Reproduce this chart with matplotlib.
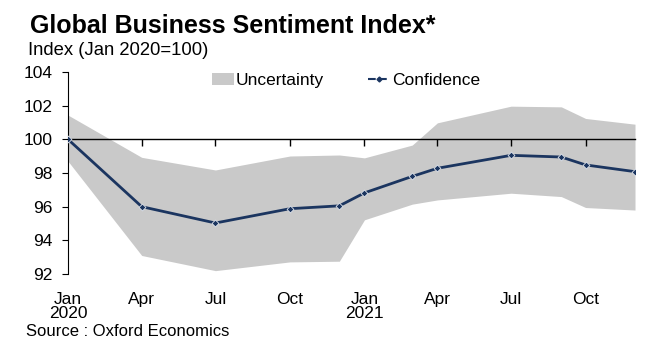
import numpy as np
import pandas as pd
import matplotlib.pyplot as plt
import matplotlib.dates as mdates
from matplotlib.patches import Patch
from matplotlib.lines import Line2D

# =============================================================================== #
# DADOS

meses = ["2020-01", "2020-04", "2020-07", "2020-10", "2020-12", "2021-01",
         "2021-03", "2021-04", "2021-07", "2021-09", "2021-10", "2021-12"]
confianca = [100.0, 96.0, 95.03, 95.88, 96.05, 96.82, 97.8, 98.28, 99.05, 98.95, 98.48, 98.08]
incerteza_sup = [101.44, 98.93, 98.18, 99.01, 99.07, 98.9, 99.66, 100.98, 101.97, 101.93, 101.24, 100.9]
incerteza_inf = [98.7, 93.1, 92.2, 92.72, 92.76, 95.22, 96.15, 96.4, 96.8, 96.6, 95.95, 95.8]

ticks_x = ["2020-01", "2020-04", "2020-07", "2020-10", "2021-01", "2021-04", "2021-07", "2021-10"]
rotulos_x = ["Jan\n2020", "Apr", "Jul", "Oct", "Jan\n2021", "Apr", "Jul", "Oct"]
ticks_y = [92, 94, 96, 98, 100, 102, 104]

# =============================================================================== #
# GRÁFICO

plt.rcParams["font.family"] = ["Liberation Sans", "DejaVu Sans"]

datas = pd.to_datetime(meses)
datas_ticks = pd.to_datetime(ticks_x)

cor_linha = "#1b3560"
cor_banda = "#c9c9c9"

fig = plt.figure(figsize=(6.56, 3.39), dpi=100)
ax = fig.add_axes([0.1037, 0.1917, 0.8643, 0.5959])

ax.fill_between(datas, incerteza_inf, incerteza_sup, color=cor_banda, lw=0, zorder=1)
ax.plot(datas, confianca, "-", color=cor_linha, lw=2, marker="D", ms=3.5,
        mec="#dfe4ec", mew=0.6, zorder=3)

ax.set_xlim(datas[0], datas[-1])
ax.set_ylim(92, 104)
ax.set_yticks(ticks_y)
ax.tick_params(axis="y", direction="out", length=4, width=0.8, labelsize=12.5, pad=7)

# eixo x na linha do 100, rótulos embaixo
ax.spines["top"].set_visible(False)
ax.spines["right"].set_visible(False)
ax.spines["bottom"].set_position(("data", 100))
ax.spines["bottom"].set_linewidth(1)
ax.spines["left"].set_linewidth(0.8)
ax.set_xticks(datas_ticks[1:])
ax.tick_params(axis="x", direction="out", length=5, width=1, labelbottom=False)

sec = ax.secondary_xaxis(0)
sec.set_xticks(datas_ticks)
sec.set_xticklabels(rotulos_x, linespacing=0.95)
sec.tick_params(axis="x", length=0, labelsize=12.5, pad=13)
sec.spines["bottom"].set_visible(False)

handles = [
    Patch(facecolor=cor_banda, edgecolor="none"),
    Line2D([0], [0], color=cor_linha, lw=1.5, ls="--", marker="D", ms=2.5),
]
ax.legend(handles, ["Uncertainty", "Confidence"], ncol=2, frameon=False,
          loc="center", bbox_to_anchor=(0.49, 0.96), fontsize=12.5,
          handlelength=1.3, handletextpad=0.1, columnspacing=2.5)

fig.text(0.046, 0.903, "Global Business Sentiment Index*", fontsize=18,
         fontweight="bold", va="baseline")
fig.text(0.043, 0.838, "Index (Jan 2020=100)", fontsize=13.3, va="baseline")
fig.text(0.040, 0.01, "Source : Oxford Economics", fontsize=12, va="baseline")

fig.savefig("out.png", dpi=100)
